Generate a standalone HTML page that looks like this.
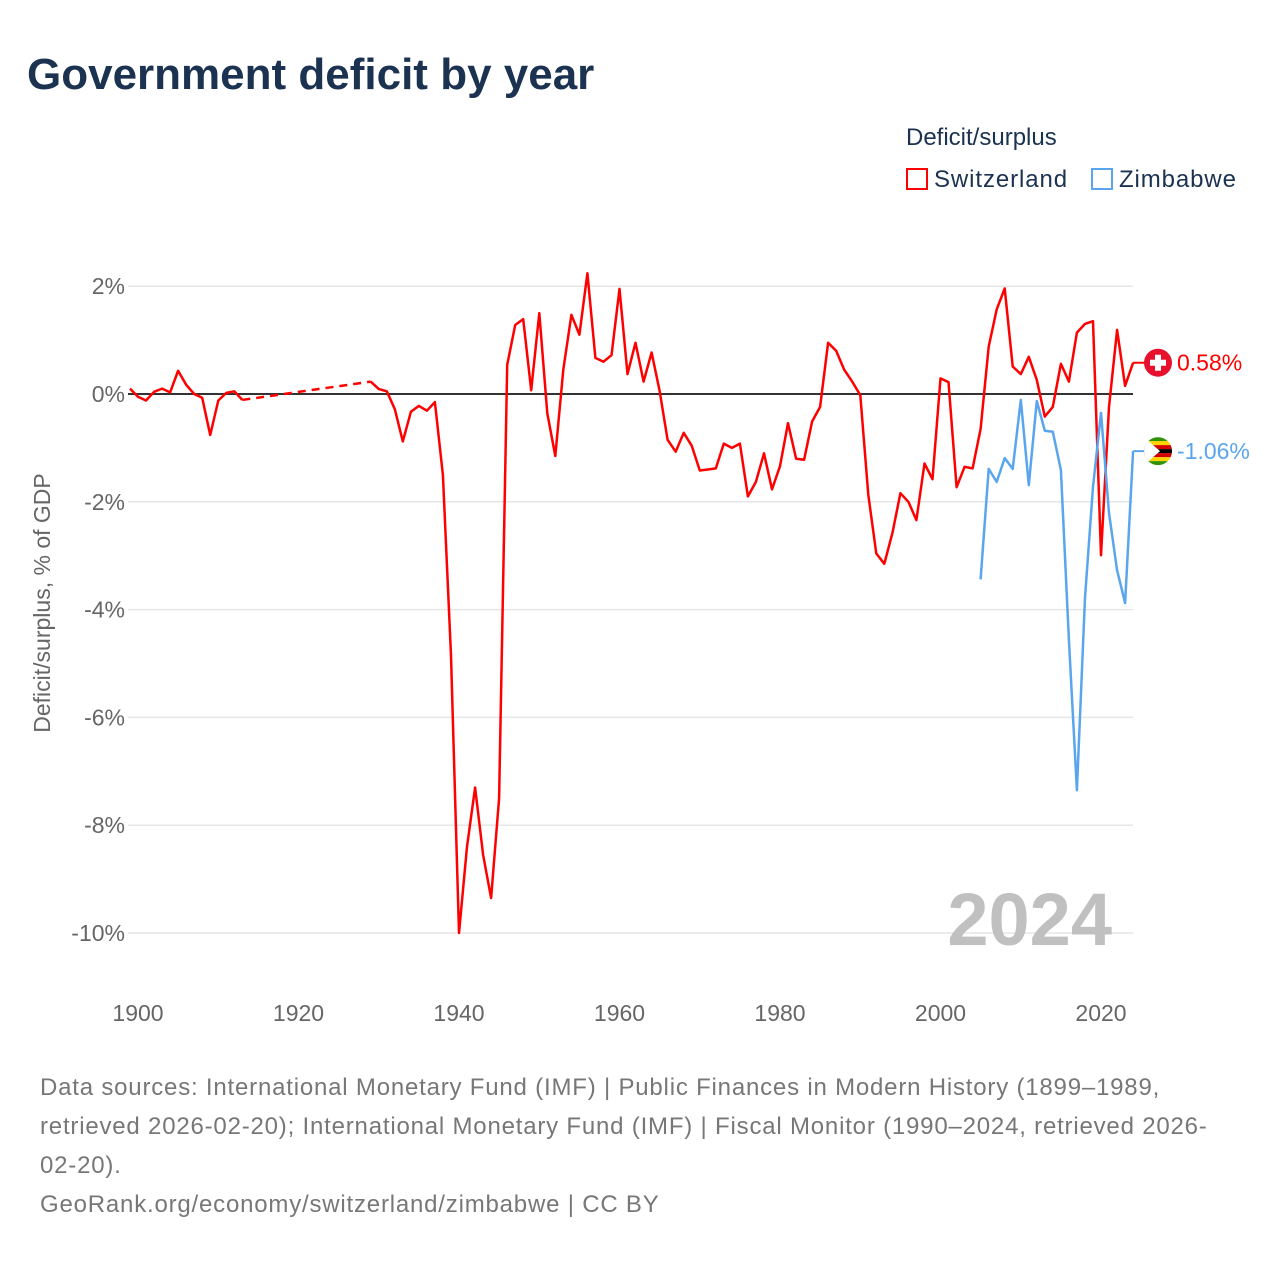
<!DOCTYPE html>
<html><head><meta charset="utf-8"><style>
body{margin:0;background:#fff;font-family:"Liberation Sans",sans-serif;}
#wrap{position:relative;width:1280px;height:1280px;overflow:hidden;}
.t{position:absolute;white-space:nowrap;}
</style></head><body><div id="wrap">
<div class="t" style="left:27px;top:50px;font-size:44px;font-weight:bold;color:#1b3250;">Government deficit by year</div>
<div class="t" style="left:906px;top:124px;font-size:24px;color:#1b3250;">Deficit/surplus</div>
<div class="t" style="left:906px;top:166px;font-size:24px;color:#1b3250;letter-spacing:0.9px;"><span style="display:inline-block;width:22px;height:22px;border:2px solid #f00;box-sizing:border-box;vertical-align:-3px;margin-right:6px;"></span>Switzerland</div>
<div class="t" style="left:1091px;top:166px;font-size:24px;color:#1b3250;letter-spacing:0.9px;"><span style="display:inline-block;width:22px;height:22px;border:2px solid #5aa6ee;box-sizing:border-box;vertical-align:-3px;margin-right:6px;"></span>Zimbabwe</div>
<div class="t" style="left:40px;top:1068px;font-size:24px;line-height:39px;color:#777;letter-spacing:0.8px;">Data sources: International Monetary Fund (IMF) | Public Finances in Modern History (1899–1989,<br>retrieved 2026-02-20); International Monetary Fund (IMF) | Fiscal Monitor (1990–2024, retrieved 2026-<br>02-20).<br>GeoRank.org/economy/switzerland/zimbabwe | CC BY</div>
<svg id="chart" width="1280" height="1280" style="position:absolute;left:0;top:0"></svg>
</div>
<script>
const swYears1=[1899,1900,1901,1902,1903,1904,1905,1906,1907,1908,1909,1910,1911,1912,1913];
const swVals1=[0.1,-0.05,-0.12,0.04,0.1,0.03,0.43,0.17,0,-0.07,-0.76,-0.12,0.02,0.05,-0.11];
const swYears2=[];for(let y=1929;y<=2024;y++)swYears2.push(y);
const swVals2=[0.23,0.09,0.05,-0.28,-0.88,-0.33,-0.22,-0.31,-0.15,-1.5,-4.85,-10,-8.4,-7.3,-8.55,-9.35,-7.5,0.54,1.28,1.39,0.07,1.5,-0.36,-1.15,0.45,1.47,1.1,2.24,0.67,0.6,0.72,1.95,0.37,0.95,0.23,0.77,0.06,-0.85,-1.07,-0.72,-0.96,-1.42,-1.4,-1.38,-0.92,-1.0,-0.92,-1.9,-1.63,-1.1,-1.77,-1.34,-0.54,-1.2,-1.22,-0.51,-0.24,0.95,0.8,0.45,0.23,-0.02,-1.87,-2.96,-3.15,-2.58,-1.84,-2.0,-2.34,-1.29,-1.58,0.29,0.22,-1.73,-1.35,-1.38,-0.65,0.88,1.57,1.96,0.51,0.37,0.69,0.26,-0.42,-0.24,0.56,0.23,1.14,1.3,1.35,-2.99,-0.24,1.19,0.15,0.58];
const zwYears=[];for(let y=2005;y<=2024;y++)zwYears.push(y);
const zwVals=[-3.44,-1.39,-1.63,-1.19,-1.39,-0.11,-1.69,-0.13,-0.68,-0.7,-1.41,-4.56,-7.35,-3.78,-1.72,-0.35,-2.21,-3.27,-3.88,-1.06];
const yTicks=[2,0,-2,-4,-6,-8,-10];
const xTicks=[1900,1920,1940,1960,1980,2000,2020];
const X=y=>138+(y-1900)*8.025;
const Y=v=>394-v*53.9;
const svg=document.getElementById('chart');
const NS='http://www.w3.org/2000/svg';
function mk(tag,attrs,parent){const e=document.createElementNS(NS,tag);for(const k in attrs)e.setAttribute(k,attrs[k]);(parent||svg).appendChild(e);return e;}
yTicks.forEach(v=>{
  const l=mk('line',{x1:128,x2:1133,y1:Y(v),y2:Y(v),stroke:v===0?'#333':'#e6e6e6','stroke-width':v===0?2:1.5});
  
  
  const t=mk('text',{x:125,y:Y(v)+8,'text-anchor':'end','font-size':23,fill:'#666'});
  t.textContent=v+'%';
  
  
});
xTicks.forEach(y=>{
  const t=mk('text',{x:X(y),y:1021,'text-anchor':'middle','font-size':23,fill:'#666'});
  t.textContent=y;
  
  
});
const yt=mk('text',{x:0,y:0,transform:'translate(50,603) rotate(-90)','text-anchor':'middle','font-size':23,fill:'#666'});
yt.textContent='Deficit/surplus, % of GDP';


const yr=mk('text',{x:1112,y:945,'text-anchor':'end','font-size':74,'font-weight':'bold',fill:'#c0c0c0'});
yr.textContent='2024';


function pts(ys,vs){return ys.map((y,i)=>X(y).toFixed(1)+','+Y(vs[i]).toFixed(1)).join(' ');}
const s1=mk('polyline',{points:pts(swYears1,swVals1),fill:'none',stroke:'#f00','stroke-width':2.5,'stroke-linejoin':'round'});


const gap=mk('line',{x1:X(swYears1[swYears1.length-1]),y1:Y(swVals1[swVals1.length-1]),x2:X(swYears2[0]),y2:Y(swVals2[0]),stroke:'#f00','stroke-width':2.5,'stroke-dasharray':'8,6'});


const s2=mk('polyline',{points:pts(swYears2,swVals2),fill:'none',stroke:'#f00','stroke-width':2.5,'stroke-linejoin':'round'});


const z=mk('polyline',{points:pts(zwYears,zwVals),fill:'none',stroke:'#5aa6ee','stroke-width':2.5,'stroke-linejoin':'round'});


const swL=swVals2[swVals2.length-1], zwL=zwVals[zwVals.length-1];
const c1=mk('line',{x1:X(2024),x2:1146,y1:Y(swL),y2:Y(swL),stroke:'#f00','stroke-width':2});


const c2=mk('line',{x1:X(2024),x2:1146,y1:Y(zwL),y2:Y(zwL),stroke:'#5aa6ee','stroke-width':2});


const cf=mk('g',{});


mk('circle',{cx:1158,cy:Y(swL),r:14,fill:'#e8112d'},cf);
mk('rect',{x:1155,y:Y(swL)-8,width:6,height:16,fill:'#fff'},cf);
mk('rect',{x:1150,y:Y(swL)-3,width:16,height:6,fill:'#fff'},cf);
const zf=mk('g',{});


const cy=Y(zwL);
const cols=['#319208','#ffd200','#d40000','#000','#d40000','#ffd200','#319208'];
mk('clipPath',{id:'zc'},zf);
mk('circle',{cx:1158,cy:cy,r:14},zf.lastChild);
const gg=mk('g',{'clip-path':'url(#zc)'},zf);
cols.forEach((c,i)=>mk('rect',{x:1144,y:cy-14+i*4,width:28,height:4.1,fill:c},gg));
mk('polygon',{points:`1144,${cy-14} 1160,${cy} 1144,${cy+14}`,fill:'#fff'},gg);
const l1=mk('text',{x:1177,y:Y(swL)+8,'font-size':23,fill:'#f00'});
l1.textContent=swL.toFixed(2)+'%';


const l2=mk('text',{x:1177,y:Y(zwL)+8,'font-size':23,fill:'#5aa6ee'});
l2.textContent=zwL.toFixed(2)+'%';


</script></body></html>
